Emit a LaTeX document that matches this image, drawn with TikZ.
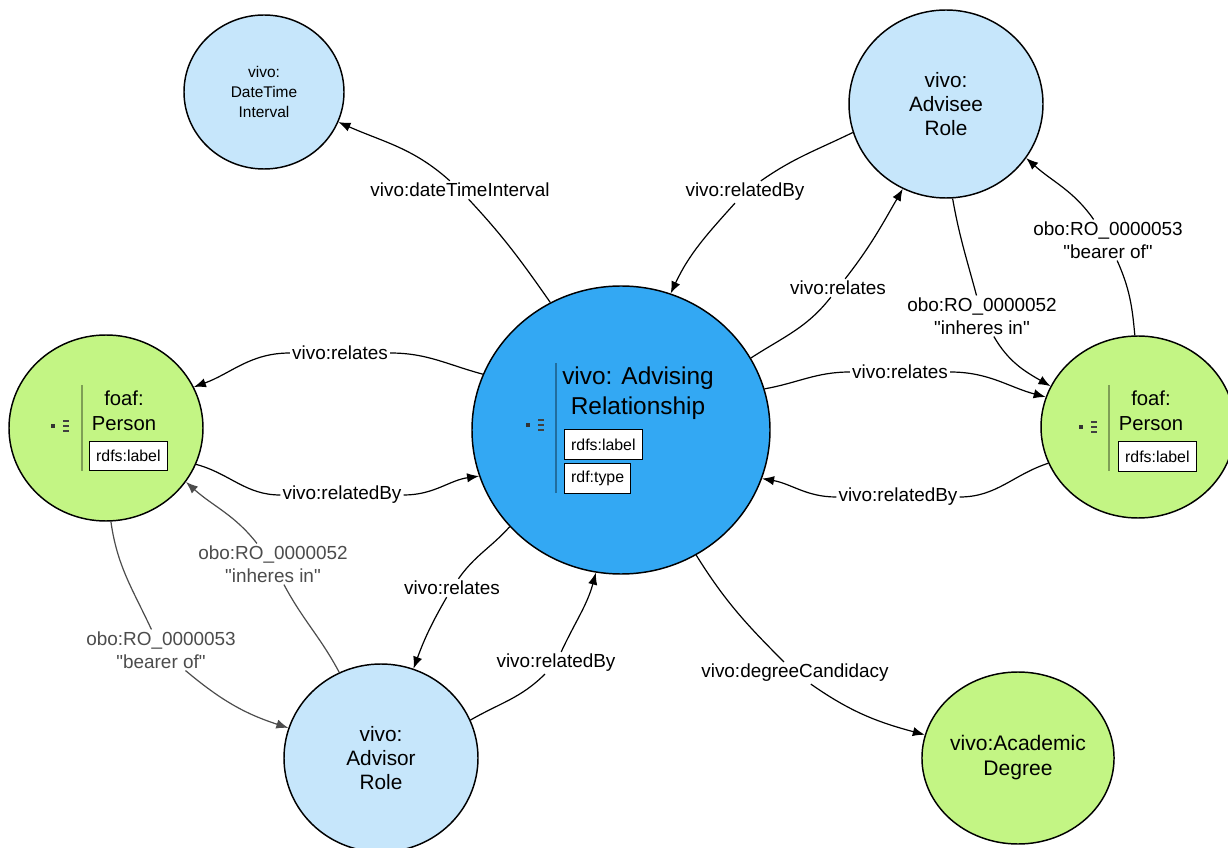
\documentclass[tikz,border=0pt]{standalone}
\usepackage{fontspec}
\setmainfont{Liberation Sans}
\usetikzlibrary{arrows.meta,shapes.geometric}
\definecolor{rolefill}{RGB}{198,230,251}
\definecolor{relfill}{RGB}{51,168,243}
\definecolor{thingfill}{RGB}{195,245,132}
\begin{document}
\begin{tikzpicture}[x=0.75pt,y=-0.75pt,
  blob/.style={ellipse,draw,line width=1.1pt,inner sep=0pt,align=center},
  role/.style={blob,fill=rolefill,font=\fontsize{15.6}{18}\selectfont},
  thing/.style={blob,fill=thingfill},
  lbl/.style={fill=white,inner sep=1.5pt,align=center,font=\fontsize{14.2}{17}\selectfont},
  obolbl/.style={lbl,text=black!70},
  conn/.style={line width=0.9pt},
  arrowconn/.style={conn,-{Latex[length=9pt,width=7pt]}},
  propbox/.style={draw,fill=white,line width=0.8pt,anchor=west,minimum height=22pt,inner xsep=5pt,font=\fontsize{11.9}{14}\selectfont}]
\useasboundingbox (0,0) rectangle (1228,848);

% classes
\node[role,minimum width=120pt,minimum height=115.5pt,font=\fontsize{11.6}{15}\selectfont] (dti) at (264,92) {vivo:\\DateTime\\Interval};
\node[role,minimum width=145.5pt,minimum height=141pt] (advisee) at (946,104) {vivo:\\Advisee\\Role};
\node[role,minimum width=145.5pt,minimum height=141pt] (advisor) at (381,758) {vivo:\\Advisor\\Role};
\node[blob,fill=relfill,minimum width=223.5pt,minimum height=216pt] (rel) at (621,430) {};
\node[thing,minimum width=145.5pt,minimum height=139.5pt] (person1) at (106,428) {};
\node[thing,minimum width=145.5pt,minimum height=136.5pt] (person2) at (1138,427) {};
\node[thing,minimum width=133.5pt,minimum height=129pt,font=\fontsize{15.8}{18.75}\selectfont] (degree) at (1018,758) {vivo:Academic\\Degree};

% inside the relationship and the persons
\node[align=center,font=\fontsize{18.3}{22.5}\selectfont] (relTitle) at (638,393) {vivo: Advising\\Relationship};
\node[propbox] (relLabel) at (564,444.5) {rdfs:label};
\node[propbox] (relType) at (564,478.5) {rdf:type};
\node[align=center,font=\fontsize{15.2}{18.75}\selectfont] (p1Title) at (124,410.5) {foaf:\\Person};
\node[propbox] (p1Label) at (89,456) {rdfs:label};
\node[align=center,font=\fontsize{15.2}{18.75}\selectfont] (p2Title) at (1151,410.5) {foaf:\\Person};
\node[propbox] (p2Label) at (1118,456.5) {rdfs:label};
\draw[black,opacity=0.35,line width=1.2pt] (82,385) -- (82,471) (556,363) -- (556,493) (1109,385) -- (1109,471);
\foreach \ix/\iy in {53/426, 528/425, 1081/427} {
  \fill[black!80] (\ix-2,\iy-2) rectangle ++(4,4);
  \foreach \dy in {-5,0,5}
    \fill[black!75] (\ix+10,\iy+\dy-1) rectangle ++(6,2);
}

% property labels
\node[lbl] (lDti) at (460,190) {vivo:dateTimeInterval};
\node[lbl] (lAdvBy) at (745,192) {vivo:relatedBy};
\node[lbl] (lAdvRel) at (838,288) {vivo:relates};
\node[lbl] (lInh2) at (982,316) {obo:RO\_0000052\\\textquotedbl inheres in\textquotedbl};
\node[lbl] (lBear2) at (1108,240) {obo:RO\_0000053\\\textquotedbl bearer of\textquotedbl};
\node[lbl] (lP2Rel) at (900,372) {vivo:relates};
\node[lbl] (lP2By) at (898,497) {vivo:relatedBy};
\node[lbl] (lP1Rel) at (340,353) {vivo:relates};
\node[lbl] (lP1By) at (342,495) {vivo:relatedBy};
\node[obolbl] (lInh1) at (273,564) {obo:RO\_0000052\\\textquotedbl inheres in\textquotedbl};
\node[obolbl] (lBear1) at (161,650) {obo:RO\_0000053\\\textquotedbl bearer of\textquotedbl};
\node[lbl] (lAvrRel) at (452,588) {vivo:relates};
\node[lbl] (lAvrBy) at (556,663) {vivo:relatedBy};
\node[lbl] (lDeg) at (795,673) {vivo:degreeCandidacy};

% connectors
\draw[conn] (rel.119) to[out=125,in=-47] (lDti);
\draw[arrowconn] (lDti) to[out=138,in=-24] (dti.-22);
\draw[conn] (advisee.197) to[out=206,in=35] (lAdvBy);
\draw[arrowconn] (lAdvBy) to[out=228,in=65] (rel.70);
\draw[conn] (rel.29) to[out=33,in=232] (lAdvRel);
\draw[arrowconn] (lAdvRel) to[out=52,in=240] (advisee.243);
\draw[conn] (advisee.-86) to[out=-80,in=105] (lInh2);
\draw[arrowconn] (lInh2) to[out=-60,in=150] (person2.155);
\draw[conn] (person2.92) to[out=95,in=-66] (lBear2);
\draw[arrowconn] (lBear2) to[out=125,in=-42] (advisee.-34);
\draw[conn] (rel.16) to[out=10,in=180] (lP2Rel);
\draw[arrowconn] (lP2Rel) to[out=0,in=165] (person2.162);
\draw[conn] (person2.202) to[out=198,in=0] (lP2By);
\draw[arrowconn] (lP2By) to[out=180,in=-10] (rel.-19);
\draw[conn] (rel.158) to[out=165,in=0] (lP1Rel);
\draw[arrowconn] (lP1Rel) to[out=180,in=20] (person1.25);
\draw[conn] (person1.-22) to[out=-15,in=180] (lP1By);
\draw[arrowconn] (lP1By) to[out=0,in=188] (rel.198);
\draw[conn,black!70] (advisor.116) to[out=118,in=-62] (lInh1);
\draw[arrowconn,black!70] (lInh1) to[out=128,in=-42] (person1.-34);
\draw[conn,black!70] (person1.-87) to[out=-82,in=115] (lBear1);
\draw[arrowconn,black!70] (lBear1) to[out=-40,in=162] (advisor.162);
\draw[conn] (rel.221) to[out=228,in=55] (lAvrRel);
\draw[arrowconn] (lAvrRel) to[out=240,in=70] (advisor.70);
\draw[conn] (advisor.23) to[out=30,in=225] (lAvrBy);
\draw[arrowconn] (lAvrBy) to[out=65,in=255] (rel.260);
\draw[conn] (rel.-59) to[out=-58,in=135] (lDeg);
\draw[arrowconn] (lDeg) to[out=-35,in=165] (degree.166);
\end{tikzpicture}
\end{document}
